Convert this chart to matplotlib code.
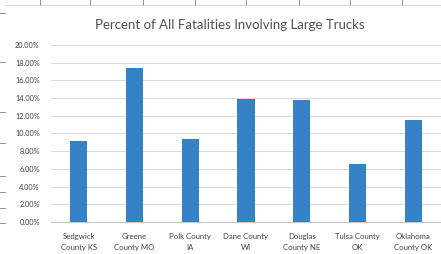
import matplotlib.pyplot as plt
from matplotlib.lines import Line2D
from matplotlib.ticker import FuncFormatter

counties = ['Sedgwick\nCounty KS', 'Greene\nCounty MO', 'Polk County\nIA', 'Dane County\nWI',
            'Douglas\nCounty NE', 'Tulsa County\nOK', 'Oklahoma\nCounty OK']
pct_trucks = [0.0915, 0.174, 0.094, 0.139, 0.138, 0.066, 0.115]
y_ticks = [0.0, 0.02, 0.04, 0.06, 0.08, 0.10, 0.12, 0.14, 0.16, 0.18, 0.20]

plt.rcParams['font.family'] = ['Lato', 'DejaVu Sans']

fig = plt.figure(figsize=(4.41, 2.54), dpi=100)
ax = fig.add_axes([0.1156, 0.126, 0.8844, 0.697])

ax.bar(range(len(counties)), pct_trucks, width=0.31, color='#3682c7', zorder=3)

ax.set_xlim(-0.5, len(counties) - 0.5)
ax.set_ylim(0, 0.20)
ax.set_yticks(y_ticks)
ax.yaxis.set_major_formatter(FuncFormatter(lambda v, p: '{:.2f}%'.format(v * 100)))
ax.set_xticks(range(len(counties)))
ax.set_xticklabels(counties, fontsize=5.6, color='#404040', linespacing=1.6,
                   multialignment='center')
ax.tick_params(axis='y', labelsize=5.3, colors='#404040', length=0, pad=8)
ax.tick_params(axis='x', length=0, pad=8)
ax.grid(axis='y', color='#d9d9d9', linewidth=0.7, zorder=0)
for s in ['top', 'right', 'left']:
    ax.spines[s].set_visible(False)
ax.spines['bottom'].set_color('#c8c8c8')
ax.spines['bottom'].set_linewidth(0.8)

fig.text(0.522, 0.903, 'Percent of All Fatalities Involving Large Trucks',
         ha='center', va='center', fontsize=9.5, color='#505050')

# spreadsheet cell borders peeking around the chart
for x in [40, 90, 143, 195, 246, 299, 350, 402]:
    fig.add_artist(Line2D([x / 441, x / 441], [1, 1 - 5 / 254], color='#909090', lw=0.7))
for y in [13, 62, 112, 143, 176, 192, 208, 223]:
    fig.add_artist(Line2D([0, 5 / 441], [1 - y / 254, 1 - y / 254], color='#909090', lw=0.7))
fig.add_artist(Line2D([5 / 441, 1], [1 - 5 / 254, 1 - 5 / 254], color='#d0d0d0', lw=0.6))

fig.savefig('out.png', dpi=100)
